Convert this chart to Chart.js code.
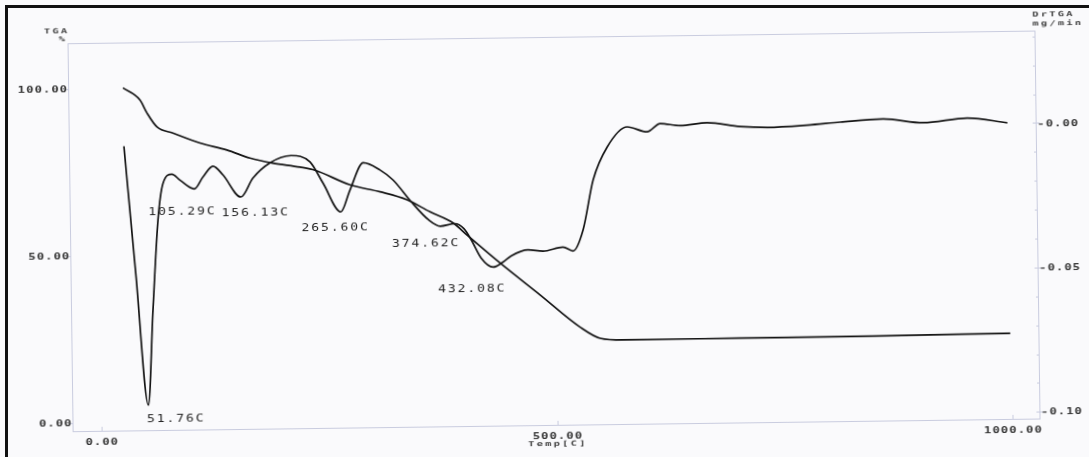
<!doctype html>
<html>
  <head>
    <title>TGA / DrTGA</title>
    <meta charset="UTF-8">
    <script src="https://cdn.jsdelivr.net/npm/chart.js"></script>
    <style>
      body { margin: 0; background: #fafafc; }
      #sheet { position: relative; width: 1089px; height: 457px; overflow: hidden; background: #fafafc; }
      #sheet canvas { position: absolute; left: 0; top: 0; transform: rotate(-0.75deg); }
      #edge { position: absolute; left: 5px; top: 5px; right: -10px; bottom: -10px;
              border-left: 3px solid #111; border-top: 3px solid #111; pointer-events: none; }
    </style>
  </head>
  <body>
    <div id="sheet">
      <canvas id="tga" width="1089" height="457"></canvas>
      <div id="edge"></div>
    </div>
    <script>
      // TGA weight curve (%)
      const tgaTemp = [28.4, 46.9, 54.4, 65.2, 82.6, 112.1, 141.6, 166.8, 191.9, 221.5, 237.9, 276.1,
        309.0, 338.5, 363.5, 388.7, 403.9, 439.7, 483.1, 526.6, 548.4, 573.6, 702.0, 848.1, 998.5];
      const tgaWeight = [100.1, 96.4, 92.5, 88.3, 86.4, 83.3, 81.1, 78.6, 77.0, 75.7, 74.7, 70.2,
        68.0, 65.5, 61.8, 58.4, 54.7, 46.2, 36.5, 26.7, 23.3, 22.7, 22.8, 22.9, 23.2];

      // derivative curve (mg/min)
      const dtgTemp = [28.6, 39.9, 51.76, 58.1, 64.9, 71.0, 80.9, 89.6, 105.29, 114.9, 126.0, 136.9,
        156.13, 169.7, 188.7, 211.9, 232.6, 246.6, 265.60, 276.0, 291.0, 309.3, 323.4, 343.0, 362.0,
        374.62, 390.6, 400.5, 408.6, 419.0, 432.08, 443.0, 452.0, 470.6, 487.1, 509.0, 520.0, 531.3,
        543.0, 558.8, 581.1, 602.9, 617.3, 639.3, 668.9, 705.1, 734.8, 778.7, 815.0, 862.2, 906.1,
        954.4, 998.3];
      const dtgRate = [-0.0039, -0.0485, -0.0936, -0.0610, -0.0297, -0.0169, -0.0138, -0.0159, -0.0190,
        -0.0149, -0.0112, -0.0143, -0.0220, -0.0155, -0.0103, -0.0079, -0.0102, -0.0176, -0.0276,
        -0.0201, -0.0107, -0.0133, -0.0168, -0.0244, -0.0308, -0.0330, -0.0322, -0.0340, -0.0380,
        -0.0442, -0.0474, -0.0457, -0.0436, -0.0416, -0.0421, -0.0408, -0.0422, -0.0349, -0.0177,
        -0.0064, 0.0005, -0.0013, 0.0015, 0.0007, 0.0016, 0.0001, -0.0003, 0.0003, 0.0012, 0.0021,
        0.0006, 0.0020, 0.0002];

      // labelled DrTGA minima
      const peakTemps = [51.76, 105.29, 156.13, 265.60, 374.62, 432.08];

      const xTicks = [0, 500, 1000];
      const xTickLabels = ['0.00', '500.00', '1000.00'];
      const yTicks = [0, 50, 100];
      const yTickLabels = ['0.00', '50.00', '100.00'];
      const y2Ticks = [-0.10, -0.05, 0.00];
      const y2TickLabels = ['-0.10', '-0.05', '-0.00'];

      // where each peak label sits relative to its minimum (px)
      const peakLabelOffsets = [[-1, 13], [-46, 22], [-19, 15], [-39, 15], [-48, 16.5], [-55, 20.5]];

      const INK = '#141414';
      const AXIS = '#c9ccdf';

      function monoText(ctx, str, x, y, o) {
        const glyph = 0.52 * o.size * o.sx;
        const w = (str.length - 1) * o.adv + glyph;
        const left = o.align === 'right' ? x - w : o.align === 'center' ? x - w / 2 : x;
        ctx.save();
        ctx.font = `${o.weight || 'normal'} ${o.size}px "DejaVu Sans Mono", monospace`;
        ctx.fillStyle = o.color || '#333';
        ctx.textAlign = 'center';
        ctx.textBaseline = 'alphabetic';
        for (let i = 0; i < str.length; i++) {
          ctx.save();
          ctx.translate(left + glyph / 2 + i * o.adv, y + 0.365 * o.size);
          ctx.scale(o.sx, 1);
          ctx.fillText(str[i], 0, 0);
          ctx.restore();
        }
        ctx.restore();
      }

      const tickFont = { size: 8.5, adv: 8.4, sx: 1.45, weight: 'bold', color: '#363636' };
      const titleFont = { size: 7, adv: 8.5, sx: 1.5, weight: 'bold', color: '#444' };
      const peakFont = { size: 10.5, adv: 9.75, sx: 1.25, weight: 'normal', color: '#262626' };

      const frame = {
        id: 'frame',
        beforeDatasetsDraw(chart) {
          const { ctx, chartArea: a, scales } = chart;
          ctx.save();
          ctx.strokeStyle = AXIS;
          ctx.lineWidth = 1;
          ctx.strokeRect(a.left + 0.5, a.top + 0.5, a.right - a.left, a.bottom - a.top);
          ctx.beginPath();
          scales.x.ticks.forEach(t => {
            const px = Math.round(scales.x.getPixelForValue(t.value)) + 0.5;
            ctx.moveTo(px, a.bottom); ctx.lineTo(px, a.bottom - 4);
          });
          scales.y.ticks.forEach(t => {
            const py = Math.round(scales.y.getPixelForValue(t.value)) + 0.5;
            ctx.moveTo(a.left - 3, py); ctx.lineTo(a.left + 1, py);
          });
          scales.y2.ticks.forEach(t => {
            const py = Math.round(scales.y2.getPixelForValue(t.value)) + 0.5;
            ctx.moveTo(a.right - 3, py); ctx.lineTo(a.right + 4, py);
          });
          for (let v = -0.10; v <= 0.03; v += 0.01) {
            const py = Math.round(scales.y2.getPixelForValue(v)) + 0.5;
            ctx.moveTo(a.right - 2, py); ctx.lineTo(a.right + 1, py);
          }
          ctx.stroke();
          ctx.restore();
        },
        afterDraw(chart) {
          const { ctx, chartArea: a, scales } = chart;
          scales.x.ticks.forEach((t, i) => {
            monoText(ctx, xTickLabels[i], scales.x.getPixelForValue(t.value), a.bottom + 10.5,
              { ...tickFont, align: 'center' });
          });
          scales.y.ticks.forEach((t, i) => {
            monoText(ctx, yTickLabels[i], a.left - 1.5, scales.y.getPixelForValue(t.value),
              { ...tickFont, align: 'right' });
          });
          scales.y2.ticks.forEach((t, i) => {
            monoText(ctx, y2TickLabels[i], a.right + 2, scales.y2.getPixelForValue(t.value),
              { ...tickFont, align: 'left' });
          });

          monoText(ctx, 'Temp[C]', (a.left + a.right) / 2 + 0.5, a.bottom + 18.5, { ...titleFont, align: 'center' });
          monoText(ctx, 'TGA', a.left - 0.5, a.top - 12.5, { ...titleFont, align: 'right' });
          monoText(ctx, '%', a.left - 5.5, a.top - 5, { ...titleFont, align: 'center' });
          monoText(ctx, 'DrTGA', a.right - 1.5, a.top - 17, { ...titleFont, align: 'left' });
          monoText(ctx, 'mg/min', a.right - 1.5, a.top - 8, { ...titleFont, align: 'left' });

          peakTemps.forEach((t, i) => {
            const rate = dtgRate[dtgTemp.indexOf(t)];
            const px = scales.x.getPixelForValue(t);
            const py = scales.y2.getPixelForValue(rate);
            const [dx, dy] = peakLabelOffsets[i];
            monoText(ctx, t.toFixed(2) + 'C', px + dx, py + dy, { ...peakFont, align: 'left' });
          });
        }
      };

      function fixedSize(prop, size) {
        return scale => { scale[prop] = size; };
      }

      function useTicks(values) {
        return scale => { scale.ticks = values.map(value => ({ value })); };
      }

      const hidden = { display: false };

      new Chart(document.getElementById('tga'), {
        type: 'line',
        data: {
          datasets: [
            {
              label: 'TGA',
              data: tgaTemp.map((x, i) => ({ x, y: tgaWeight[i] })),
              yAxisID: 'y',
              borderColor: INK,
              borderWidth: 1.7,
              pointRadius: 0,
              cubicInterpolationMode: 'monotone',
            },
            {
              label: 'DrTGA',
              data: dtgTemp.map((x, i) => ({ x, y: dtgRate[i] })),
              yAxisID: 'y2',
              borderColor: INK,
              borderWidth: 1.7,
              pointRadius: 0,
              cubicInterpolationMode: 'monotone',
            }
          ]
        },
        options: {
          responsive: false,
          animation: false,
          devicePixelRatio: 1,
          layout: { padding: { top: 37, left: 0, right: 0, bottom: 0 } },
          plugins: { legend: hidden, tooltip: { enabled: false } },
          scales: {
            x: {
              type: 'linear', min: -31.8, max: 1029.4,
              ticks: hidden, grid: hidden, border: hidden,
              afterBuildTicks: useTicks(xTicks),
              afterFit: fixedSize('height', 32),
            },
            y: {
              type: 'linear', position: 'left', min: -2.46, max: 113.7,
              ticks: hidden, grid: hidden, border: hidden,
              afterBuildTicks: useTicks(yTicks),
              afterFit: fixedSize('width', 70),
            },
            y2: {
              type: 'linear', position: 'right', min: -0.1023, max: 0.032,
              ticks: hidden, grid: hidden, border: hidden,
              afterBuildTicks: useTicks(y2Ticks),
              afterFit: fixedSize('width', 52),
            }
          }
        },
        plugins: [frame]
      });
    </script>
  </body>
</html>
